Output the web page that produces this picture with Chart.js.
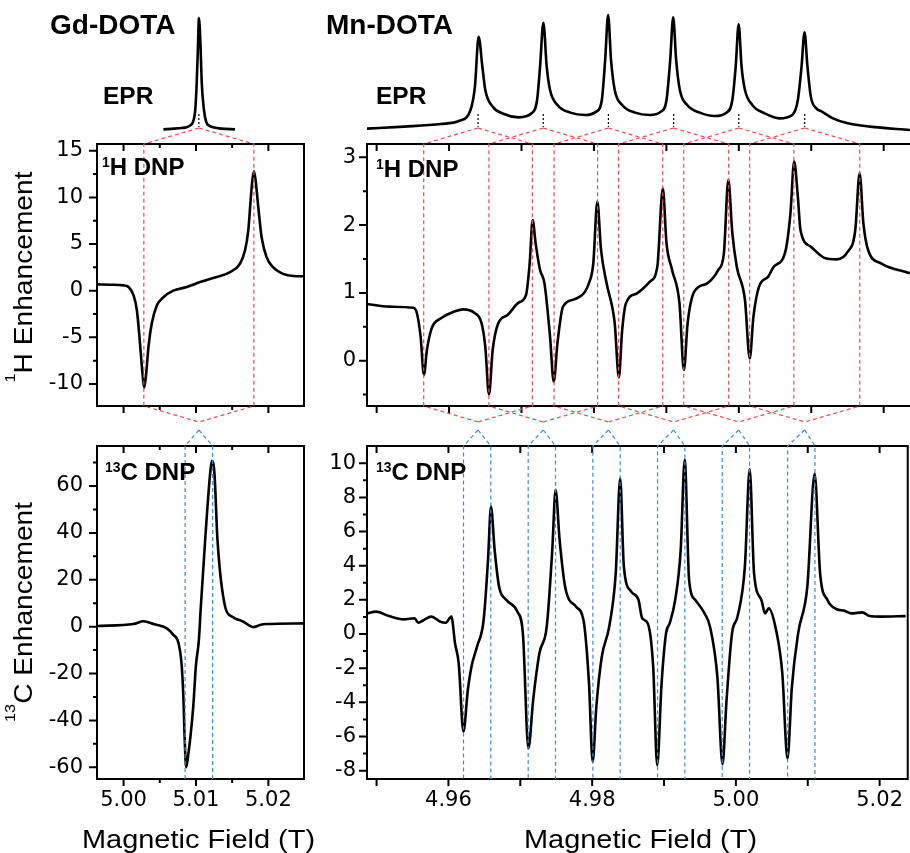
<!DOCTYPE html>
<html>
<head>
<meta charset="utf-8">
<script src="https://cdn.jsdelivr.net/npm/chart.js@4/dist/chart.umd.min.js"></script>
<style>
body { margin: 0; background: #fff; width: 910px; height: 853px; overflow: hidden; position: relative; font-family: "Liberation Sans", Arial, sans-serif; }
canvas { position: absolute; }
.t { position: absolute; white-space: nowrap; line-height: 1; color: #000; }
.b { font-weight: bold; }
.t sup { font-size: 0.58em; vertical-align: baseline; position: relative; top: -0.55em; }
.xt { font-size: 25.6px; transform: scaleX(1.13); transform-origin: left center; }
.yt { position: absolute; width: 0; height: 0; }
.yt span { position: absolute; left: 0; top: 0; white-space: nowrap; line-height: 1; font-size: 25.6px;
           transform: translate(-50%, -50%) rotate(-90deg) scaleX(1.1); }
</style>
</head>
<body>
<canvas id="gdEpr"></canvas>
<canvas id="mnEpr"></canvas>
<canvas id="gdH"></canvas>
<canvas id="mnH"></canvas>
<canvas id="gdC"></canvas>
<canvas id="mnC"></canvas>
<canvas id="links"></canvas>

<div class="t b" style="left:50px;top:11px;font-size:28px">Gd-DOTA</div>
<div class="t b" style="left:326px;top:11px;font-size:28px">Mn-DOTA</div>
<div class="t b" style="left:103px;top:84px;font-size:24.5px">EPR</div>
<div class="t b" style="left:376px;top:84px;font-size:24.5px">EPR</div>
<div class="t b" style="left:102px;top:155px;font-size:24px"><sup>1</sup>H DNP</div>
<div class="t b" style="left:376px;top:157px;font-size:24px"><sup>1</sup>H DNP</div>
<div class="t b" style="left:105px;top:460px;font-size:24px"><sup>13</sup>C DNP</div>
<div class="t b" style="left:376px;top:460px;font-size:24px"><sup>13</sup>C DNP</div>
<div class="t xt" style="left:82px;top:827px">Magnetic Field (T)</div>
<div class="t xt" style="left:524px;top:827px">Magnetic Field (T)</div>
<div class="yt" style="left:24px;top:277px"><span><sup style="font-size:0.58em;position:relative;top:-0.55em">1</sup>H Enhancement</span></div>
<div class="yt" style="left:24px;top:612px"><span><sup style="font-size:0.58em;position:relative;top:-0.55em">13</sup>C Enhancement</span></div>

<script>
// ---- Gd-DOTA ----
const gdEprField = [5.0055, 5.0070, 5.0080, 5.0087, 5.0093, 5.0096, 5.0099, 5.0101, 5.0103, 5.0104, 5.0106, 5.0108, 5.0111, 5.0114, 5.0118, 5.0125, 5.0135, 5.0154];
const gdEprSignal = [0.006, 0.012, 0.018, 0.025, 0.045, 0.075, 0.18, 0.42, 0.80, 1.0, 0.80, 0.42, 0.18, 0.075, 0.04, 0.022, 0.012, 0.006];

const gdH1Field = [4.99633, 4.99817, 5.0000, 5.00069, 5.00138, 5.00184, 5.0022, 5.00257, 5.00285, 5.00312, 5.00344, 5.0039, 5.00459, 5.0055, 5.00688, 5.00872, 5.01056, 5.01286, 5.0147, 5.01608, 5.01677, 5.01723, 5.01755, 5.01778, 5.01801, 5.01824, 5.0186, 5.01906, 5.01975, 5.02067, 5.02205, 5.02343, 5.02481];
const gdH1Enh = [0.68, 0.64, 0.57, 0.4, -0.5, -2.1, -5.0, -8.5, -10.4, -8.9, -6.0, -3.5, -1.6, -0.7, 0.0, 0.39, 0.93, 1.46, 2.0, 2.89, 4.3, 6.5, 9.7, 11.8, 12.8, 11.8, 9.0, 5.75, 3.6, 2.5, 1.8, 1.57, 1.54];

const gdC13Field = [4.99633, 5.00138, 5.00276, 5.00414, 5.00598, 5.00688, 5.00758, 5.00804, 5.00827, 5.00841, 5.00864, 5.00896, 5.0093, 5.00965, 5.00998, 5.0104, 5.01067, 5.01127, 5.01196, 5.0122, 5.01255, 5.01297, 5.01403, 5.01495, 5.01655, 5.01793, 5.01884, 5.01976, 5.02481];
const gdC13Enh = [0.3, 1.14, 2.3, 1.14, -0.71, -3.5, -7.0, -17, -31, -45, -60, -54, -45, -33, -17, -5.7, 8.5, 37, 65.5, 70.7, 65.5, 37, 8.5, 4.3, 2.1, -0.2, 0.7, 1.1, 1.4];

// ---- Mn-DOTA ----
const mnEprField = [4.94866, 4.95377, 4.95888, 4.96143, 4.96296, 4.96357, 4.96408, 4.9646, 4.965, 4.96603, 4.96756, 4.9696, 4.97139, 4.97215, 4.97256, 4.97302, 4.97348, 4.97394, 4.97496, 4.97675, 4.97879, 4.98032, 4.98109, 4.98155, 4.98196, 4.98236, 4.98287, 4.9839, 4.98568, 4.98773, 4.98926, 4.99002, 4.99053, 4.99094, 4.99135, 4.99186, 4.99288, 4.99462, 4.99666, 4.9983, 4.99911, 4.99957, 4.99998, 5.00038, 5.00085, 5.00187, 5.00356, 5.0056, 5.00738, 5.00815, 5.00866, 5.00907, 5.00948, 5.00994, 5.01071, 5.01147, 5.013, 5.01504, 5.01811, 5.02362];
const mnEprSignal = [0.012, 0.03, 0.054, 0.083, 0.179, 0.387, 0.833, 0.565, 0.357, 0.208, 0.143, 0.113, 0.149, 0.268, 0.565, 0.958, 0.565, 0.357, 0.223, 0.155, 0.134, 0.164, 0.268, 0.625, 1.027, 0.625, 0.357, 0.223, 0.155, 0.134, 0.164, 0.268, 0.625, 1.006, 0.625, 0.357, 0.223, 0.155, 0.125, 0.155, 0.268, 0.565, 0.943, 0.565, 0.357, 0.223, 0.149, 0.104, 0.134, 0.268, 0.565, 0.872, 0.565, 0.298, 0.193, 0.164, 0.104, 0.06, 0.03, 0.0];

const mnH1Field = [4.94866, 4.95173, 4.95505, 4.95556, 4.95607, 4.95653, 4.95694, 4.9576, 4.95888, 4.96092, 4.96194, 4.96347, 4.96449, 4.965, 4.96551, 4.96602, 4.96679, 4.96807, 4.9696, 4.97062, 4.97113, 4.97154, 4.97195, 4.97256, 4.97317, 4.97394, 4.97445, 4.97496, 4.97573, 4.97726, 4.9793, 4.97991, 4.98047, 4.98098, 4.98175, 4.98287, 4.98344, 4.9839, 4.98441, 4.98594, 4.98773, 4.98875, 4.98951, 4.99002, 4.99079, 4.99181, 4.99242, 4.99293, 4.99385, 4.99564, 4.99717, 4.99794, 4.99855, 4.99911, 4.99972, 5.00085, 5.00151, 5.00202, 5.00279, 5.00406, 5.00483, 5.00636, 5.00713, 5.00764, 5.00815, 5.00851, 5.00994, 5.01198, 5.01351, 5.01504, 5.01608, 5.01668, 5.0172, 5.01785, 5.01964, 5.02362];
const mnH1Enh = [0.836, 0.797, 0.78, 0.70, 0.354, -0.21, 0.157, 0.477, 0.625, 0.733, 0.757, 0.708, 0.551, 0.207, -0.497, 0.157, 0.551, 0.674, 0.856, 0.969, 1.436, 2.076, 1.731, 1.338, 1.141, 0.354, -0.31, 0.256, 0.797, 0.905, 1.141, 1.436, 2.346, 1.633, 1.141, 0.551, -0.246, 0.453, 0.846, 0.994, 1.166, 1.387, 2.543, 1.731, 1.338, 0.846, -0.138, 0.551, 1.018, 1.141, 1.338, 1.584, 2.666, 1.879, 1.387, 0.895, 0.034, 0.649, 1.092, 1.24, 1.387, 1.584, 2.174, 2.937, 2.42, 1.928, 1.682, 1.51, 1.495, 1.608, 1.928, 2.764, 2.027, 1.633, 1.436, 1.289];

const mnC13Field = [4.94866, 4.94994, 4.95173, 4.95377, 4.9553, 4.95581, 4.95658, 4.9576, 4.95888, 4.95964, 4.96041, 4.96092, 4.96143, 4.96209, 4.9627, 4.96321, 4.96398, 4.9649, 4.96551, 4.96592, 4.96643, 4.96705, 4.96807, 4.9696, 4.97036, 4.97113, 4.97179, 4.97266, 4.97368, 4.97445, 4.97491, 4.97547, 4.97624, 4.97777, 4.97879, 4.97956, 4.98007, 4.98058, 4.98134, 4.98237, 4.98328, 4.9839, 4.98441, 4.98543, 4.98645, 4.98696, 4.98773, 4.98849, 4.98905, 4.98966, 4.99028, 4.99079, 4.99155, 4.99232, 4.99288, 4.99349, 4.99436, 4.99564, 4.9964, 4.99742, 4.99814, 4.9987, 4.99946, 5.00023, 5.00125, 5.00192, 5.00253, 5.00355, 5.00406, 5.00457, 5.00559, 5.00646, 5.00718, 5.00779, 5.00866, 5.00994, 5.01096, 5.01172, 5.01274, 5.01402, 5.01504, 5.01606, 5.0176, 5.01862, 5.02015, 5.02362];
const mnC13Enh = [1.21, 1.31, 1.05, 0.86, 0.92, 0.66, 0.82, 1.02, 0.72, 0.66, 1.02, -0.55, -1.72, -5.72, -3.28, -1.91, -0.74, 0.82, 4.34, 7.46, 4.92, 2.77, 1.99, 1.31, 0.04, -6.70, -3.87, -1.13, 0.43, 4.92, 8.44, 5.51, 2.77, 1.6, 0.82, -2.89, -7.48, -4.26, -1.33, 0.43, 3.55, 9.12, 3.95, 2.48, 1.99, 0.92, 0.63, -1.91, -7.68, -2.89, 0.04, 0.63, 1.99, 4.92, 10.2, 3.16, 1.99, 1.21, 0.43, -2.5, -7.62, -3.87, 0.04, 1.02, 3.95, 9.65, 3.55, 1.99, 1.21, 1.5, 0.23, -2.3, -7.29, -3.09, 0.04, 2.77, 9.38, 3.55, 1.99, 1.45, 1.37, 1.21, 1.27, 1.05, 1.02, 1.05];

// EPR line centres and the DNP (1H red / 13C blue) matching-condition fields
const gdEprPeaks = [5.0104];
const gdH1Pairs = [[5.0028, 5.0180]];
const gdC13Pairs = [[5.0085, 5.0123]];
const mnEprPeaks = [4.9640, 4.9730, 4.9820, 4.9910, 5.0000, 5.0091];
const mnH1Pairs = [[4.9565, 4.9715], [4.9655, 4.9805], [4.9745, 4.9895], [4.9834, 4.9986], [4.9924, 5.0076], [5.0015, 5.0167]];
const mnC13Pairs = [[4.9621, 4.9659], [4.9711, 4.9749], [4.9801, 4.9839], [4.9891, 4.9929], [4.9981, 5.0019], [5.0072, 5.0110]];

// ticks
const gdXTicks = [5.000, 5.005, 5.010, 5.015, 5.020];
const gdXLabels = ['5.00', '', '5.01', '', '5.02'];
const mnXTicks = [4.95, 4.96, 4.97, 4.98, 4.99, 5.00, 5.01, 5.02];
const mnXLabels = ['', '4.96', '', '4.98', '', '5.00', '', '5.02'];
const gdH1YTicks = [-10, -7.5, -5, -2.5, 0, 2.5, 5, 7.5, 10, 12.5, 15];
const gdH1YLabels = ['-10', '', '-5', '', '0', '', '5', '', '10', '', '15'];
const gdC13YTicks = [-60, -50, -40, -30, -20, -10, 0, 10, 20, 30, 40, 50, 60, 70];
const gdC13YLabels = ['-60', '', '-40', '', '-20', '', '0', '', '20', '', '40', '', '60', ''];
const mnH1YTicks = [-0.5, 0, 0.5, 1, 1.5, 2, 2.5, 3];
const mnH1YLabels = ['', '0', '', '1', '', '2', '', '3'];
const mnC13YTicks = [-8, -7, -6, -5, -4, -3, -2, -1, 0, 1, 2, 3, 4, 5, 6, 7, 8, 9, 10];
const mnC13YLabels = ['-8', '', '-6', '', '-4', '', '-2', '', '0', '', '2', '', '4', '', '6', '', '8', '', '10'];

const tickFont = { family: 'DejaVu Sans', size: 21 };

// frame + hand-drawn tick marks (outward bottom/left, inward top)
const framePlugin = {
  id: 'frame',
  afterDraw(chart, args, o) {
    const { ctx, chartArea: a, scales: { x, y } } = chart;
    ctx.save();
    ctx.strokeStyle = '#000';
    ctx.lineWidth = 2;
    ctx.beginPath();
    x.ticks.forEach(t => {
      const px = x.getPixelForValue(t.value);
      const len = t.label ? o.xMajor : o.xMinor;
      ctx.moveTo(px, a.bottom); ctx.lineTo(px, a.bottom + len);
      ctx.moveTo(px, a.top); ctx.lineTo(px, a.top + len);
    });
    y.ticks.forEach(t => {
      const py = y.getPixelForValue(t.value);
      const len = t.label ? o.yMajor : o.yMinor;
      ctx.moveTo(a.left, py); ctx.lineTo(a.left - len, py);
    });
    ctx.stroke();
    ctx.strokeRect(a.left, a.top, a.right - a.left, a.bottom - a.top);
    ctx.restore();
  }
};

function axisCfg(s, shown, dir, size) {
  return {
    type: 'linear', min: s.min, max: s.max, display: shown,
    grid: { display: false, drawTicks: false },
    border: { display: false },
    afterFit: sc => { if (dir === 'x') sc.height = size; else sc.width = size; },
    afterBuildTicks: sc => { if (s.ticks) sc.ticks = s.ticks.map(v => ({ value: v })); },
    ticks: {
      display: !!s.showLabels, autoSkip: false, maxRotation: 0, padding: s.pad || 0,
      color: '#000', font: tickFont,
      callback: (v, i) => (s.labels ? s.labels[i] : '')
    }
  };
}

function makePanel(id, box, area, xs, ys, field, values, frame) {
  const cv = document.getElementById(id);
  cv.width = box.w; cv.height = box.h;
  cv.style.left = box.x + 'px'; cv.style.top = box.y + 'px';
  const axes = !!frame;
  const chart = new Chart(cv, {
    type: 'scatter',
    data: {
      datasets: [{
        data: field.map((f, i) => ({ x: f, y: values[i] })),
        showLine: true, borderColor: '#000', borderWidth: 2.6,
        pointRadius: 0, cubicInterpolationMode: 'monotone'
      }]
    },
    options: {
      responsive: false, animation: false, events: [],
      layout: {
        padding: { left: 0, top: area.top - box.y, right: box.x + box.w - area.right, bottom: axes ? 0 : box.y + box.h - area.bottom },
        autoPadding: false
      },
      plugins: { legend: { display: false }, tooltip: { enabled: false }, frame: frame || false },
      scales: {
        x: axisCfg(xs, axes, 'x', box.y + box.h - area.bottom),
        y: axisCfg(ys, axes, 'y', area.left - box.x)
      }
    },
    plugins: axes ? [framePlugin] : []
  });
  return { chart, box };
}

const gdX = { min: 4.99633, max: 5.02492 };
const mnX = { min: 4.94867, max: 5.02391 };
const eprY = { min: -0.0446, max: 1.1607 };

const gdEpr = makePanel('gdEpr', { x: 97, y: 0, w: 207, h: 135 }, { left: 97, top: 0, right: 304, bottom: 135 },
  gdX, eprY, gdEprField, gdEprSignal, null);
const mnEpr = makePanel('mnEpr', { x: 367, y: 0, w: 545, h: 135 }, { left: 367, top: 0, right: 912, bottom: 135 },
  mnX, eprY, mnEprField, mnEprSignal, null);

const leftFrame = { xMajor: 7, xMinor: 4, yMajor: 8, yMinor: 4 };
const rightFrame = { xMajor: 7, xMinor: 7, yMajor: 8, yMinor: 4 };

const gdH = makePanel('gdH', { x: 0, y: 104, w: 330, h: 342 }, { left: 97, top: 144, right: 304, bottom: 406 },
  { ...gdX, ticks: gdXTicks, labels: gdXLabels, showLabels: false },
  { min: -12.357, max: 15.72, ticks: gdH1YTicks, labels: gdH1YLabels, showLabels: true, pad: 14 },
  gdH1Field, gdH1Enh, leftFrame);
const mnH = makePanel('mnH', { x: 310, y: 104, w: 602, h: 342 }, { left: 367, top: 144, right: 912, bottom: 406 },
  { ...mnX, ticks: mnXTicks, labels: mnXLabels, showLabels: false },
  { min: -0.668, max: 3.196, ticks: mnH1YTicks, labels: mnH1YLabels, showLabels: true, pad: 11 },
  mnH1Field, mnH1Enh, rightFrame);
const gdC = makePanel('gdC', { x: 0, y: 406, w: 330, h: 447 }, { left: 97, top: 446, right: 304, bottom: 779 },
  { ...gdX, ticks: gdXTicks, labels: gdXLabels, showLabels: true, pad: 9 },
  { min: -64.99, max: 77.06, ticks: gdC13YTicks, labels: gdC13YLabels, showLabels: true, pad: 14 },
  gdC13Field, gdC13Enh, leftFrame);
const mnC = makePanel('mnC', { x: 310, y: 406, w: 602, h: 447 }, { left: 367, top: 446, right: 912, bottom: 779 },
  { ...mnX, ticks: mnXTicks, labels: mnXLabels, showLabels: true, pad: 9 },
  { min: -8.49, max: 11.01, ticks: mnC13YTicks, labels: mnC13YLabels, showLabels: true, pad: 11 },
  mnC13Field, mnC13Enh, rightFrame);

// ---- connecting dashed lines, placed through the panels' own x scales ----
const lc = document.getElementById('links');
lc.width = 910; lc.height = 853;
lc.style.left = '0px'; lc.style.top = '0px';
const g = lc.getContext('2d');
const RED = '#f04a50', BLUE = '#3a8ed8';

function poly(color, dash, pts) {
  g.save();
  g.strokeStyle = color; g.lineWidth = 1.2; g.setLineDash(dash);
  g.beginPath();
  pts.forEach((p, i) => (i ? g.lineTo(p[0], p[1]) : g.moveTo(p[0], p[1])));
  g.stroke();
  g.restore();
}

function links(hP, cP, peaks, h1Pairs, c13Pairs) {
  const X = (p, f) => p.box.x + p.chart.scales.x.getPixelForValue(f);
  const hTop = hP.box.y + hP.chart.chartArea.top, hBot = hP.box.y + hP.chart.chartArea.bottom;
  const cTop = cP.box.y + cP.chart.chartArea.top, cBot = cP.box.y + cP.chart.chartArea.bottom;
  const yA = hTop - 16, yB = hBot + 16, yC = cTop - 16;
  peaks.forEach((c, i) => {
    const xc = X(hP, c);
    poly('#000', [2, 2], [[xc, yA - 14], [xc, yA - 1]]);
    h1Pairs[i].forEach(f => {
      const xf = X(hP, f);
      poly(RED, [4, 3], [[xc, yA], [xf, hTop], [xf, hBot], [xc, yB]]);
    });
    c13Pairs[i].forEach(f => {
      const xf = X(cP, f);
      poly(BLUE, [4, 3], [[xc, yC], [xf, cTop], [xf, cBot]]);
    });
  });
}

links(gdH, gdC, gdEprPeaks, gdH1Pairs, gdC13Pairs);
links(mnH, mnC, mnEprPeaks, mnH1Pairs, mnC13Pairs);
</script>
</body>
</html>
